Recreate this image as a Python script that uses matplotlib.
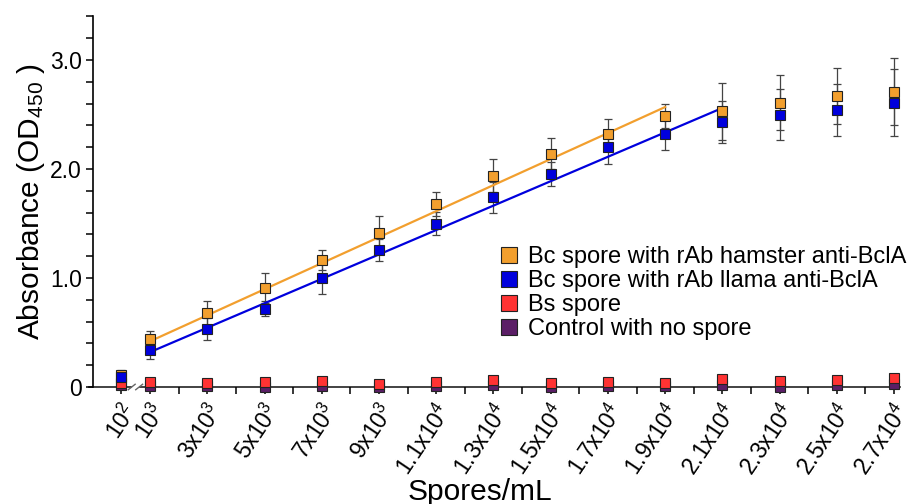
import numpy as np
import matplotlib
matplotlib.use('Agg')
import matplotlib.pyplot as plt
from matplotlib.lines import Line2D

plt.rcParams['font.family'] = ['Liberation Sans', 'DejaVu Sans']
plt.rcParams['mathtext.fontset'] = 'custom'
plt.rcParams['mathtext.rm'] = 'Liberation Sans'
plt.rcParams['mathtext.it'] = 'Liberation Sans'
plt.rcParams['mathtext.default'] = 'regular'

# Data
spores = [100, 1000, 3000, 5000, 7000, 9000, 11000, 13000, 15000, 17000,
          19000, 21000, 23000, 25000, 27000]
tick_labels = ['10$^2$', '10$^3$', '3x10$^3$', '5x10$^3$', '7x10$^3$', '9x10$^3$',
               '1.1x10$^4$', '1.3x10$^4$', '1.5x10$^4$', '1.7x10$^4$', '1.9x10$^4$',
               '2.1x10$^4$', '2.3x10$^4$', '2.5x10$^4$', '2.7x10$^4$']
hamster = [0.11, 0.44, 0.68, 0.91, 1.165, 1.41, 1.68, 1.94, 2.14, 2.32, 2.49, 2.53, 2.61, 2.67, 2.71]
hamster_err = [0.05, 0.07, 0.11, 0.14, 0.09, 0.16, 0.11, 0.15, 0.14, 0.14, 0.11, 0.26, 0.25, 0.26, 0.31]
llama = [0.09, 0.34, 0.53, 0.72, 1.00, 1.26, 1.50, 1.74, 1.95, 2.20, 2.32, 2.43, 2.50, 2.54, 2.61]
llama_err = [0.05, 0.08, 0.10, 0.07, 0.15, 0.10, 0.11, 0.14, 0.11, 0.15, 0.15, 0.19, 0.23, 0.24, 0.31]
bs_spore = [0.04, 0.045, 0.035, 0.045, 0.055, 0.03, 0.045, 0.06, 0.035, 0.045, 0.035, 0.07, 0.055, 0.06, 0.08]
control = [0.02, 0.01, 0.01, 0.0, 0.01, 0.0, 0.01, 0.015, 0.0, 0.01, 0.005, 0.02, 0.0, 0.015, 0.025]

# linear fits: slope (per 1000 spores/mL), intercept, fitted range
hamster_fit = (0.1194, 0.30, 1000, 19000)
llama_fit = (0.112, 0.208, 1000, 21000)

c_orange = '#F29F2E'
c_blue = '#0000DD'
c_red = '#FF3333'
c_purple = '#5B1E66'

spores = np.array(spores)
# broken axis: 10^2 is drawn at position 0, the rest linearly in thousands
xpos = np.where(spores >= 1000, spores / 1000.0, 0.0)

fig = plt.figure(figsize=(9.16, 5.04), dpi=100)
ax = fig.add_axes([92.8 / 916, 117 / 504, 807 / 916, 370.6 / 504])

ms = 7.3
mk = dict(marker='s', ms=ms, mec='#222222', mew=0.8, ls='none', clip_on=False)

ax.plot(xpos, control, mfc=c_purple, zorder=3, **mk)
ax.plot(xpos, bs_spore, mfc=c_red, zorder=4, **mk)

ax.errorbar(xpos, hamster, yerr=hamster_err, fmt='none', ecolor='#444444',
            elinewidth=0.9, capsize=3, capthick=0.9, zorder=2)
ax.errorbar(xpos, llama, yerr=llama_err, fmt='none', ecolor='#444444',
            elinewidth=0.9, capsize=3, capthick=0.9, zorder=2)

for (slope, icpt, x0, x1), col in [(hamster_fit, c_orange), (llama_fit, c_blue)]:
    xf = np.array([x0, x1]) / 1000.0
    ax.plot(xf, slope * xf + icpt, color=col, lw=1.6, zorder=2.5)

ax.plot(xpos, hamster, mfc=c_orange, zorder=5, **mk)
ax.plot(xpos, llama, mfc=c_blue, zorder=6, **mk)

ax.set_xlim(-1, 27.2)
ax.set_ylim(0, 3.4)

# axes
ax.spines['top'].set_visible(False)
ax.spines['right'].set_visible(False)
ax.spines['bottom'].set_visible(False)
ax.spines['left'].set_linewidth(1.2)
ax.plot([-1.15, 0.33], [0, 0], color='#222222', lw=1.2, clip_on=False, zorder=1)
ax.plot([0.65, 27.2], [0, 0], color='#222222', lw=1.2, clip_on=False, zorder=1)
for bx in (0.36, 0.62):
    ax.plot([bx - 0.12, bx + 0.12], [-0.025, 0.025], color='#666666', lw=1.0,
            clip_on=False, zorder=1)

yt = np.arange(0, 3.41, 0.2)
ax.set_yticks(yt)
ax.set_yticklabels(['0' if abs(v) < 1e-9 else ('%.1f' % v if abs(v - round(v)) < 1e-9 else '')
                    for v in yt], fontsize=16.5)
ax.tick_params(axis='y', direction='out', length=5, width=1.1, pad=3)

ax.set_xticks(np.arange(0, 28), minor=True)
ax.set_xticks(xpos)
ax.set_xticklabels(tick_labels, fontsize=16.5, rotation=56, ha='right', va='top',
                   rotation_mode='anchor')
ax.tick_params(axis='x', which='both', direction='out', length=5, width=1.1, pad=4)

ax.set_xlabel('Spores/mL', fontsize=21.5)
ax.xaxis.set_label_coords(0.48, -0.245)
ax.set_ylabel('Absorbance (OD$_{450}$ )', fontsize=21.5, labelpad=2)

handles = [Line2D([], [], marker='s', ms=ms, mfc=c, mec='#222222', mew=0.8, ls='none')
           for c in (c_orange, c_blue, c_red, c_purple)]
labels = ['Bc spore with rAb hamster anti-BclA', 'Bc spore with rAb llama anti-BclA',
          'Bs spore', 'Control with no spore']
fig.legend(handles, labels, loc='upper left', bbox_to_anchor=(499.6 / 916, 1 - 246 / 504),
           frameon=False, fontsize=17, markerscale=1.6, handlelength=0.8,
           handletextpad=0.4, labelspacing=0.09, borderpad=0, borderaxespad=0)

fig.savefig('out.png', dpi=100)
